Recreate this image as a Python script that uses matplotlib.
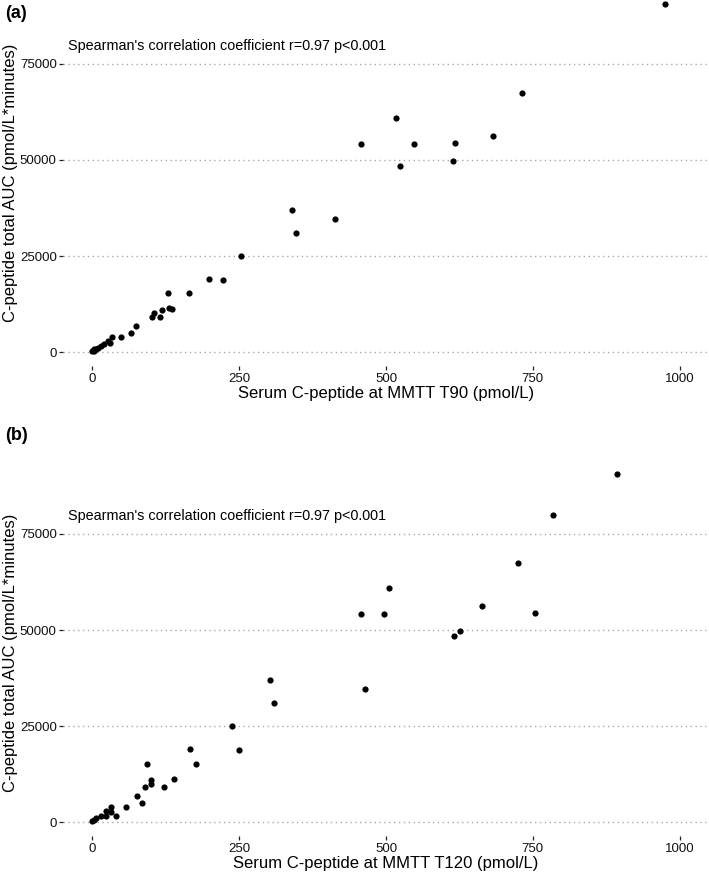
import matplotlib
matplotlib.use("Agg")
import matplotlib.pyplot as plt

plt.rcParams['font.family'] = ['Liberation Sans', 'DejaVu Sans']

# panel (a): serum C-peptide at MMTT T90 vs total AUC
t90 = [975, 731, 517, 458, 548, 617, 682, 524, 614, 414, 340, 346,
       253, 199, 223, 128, 165, 102, 105, 115, 118, 131, 136, 75, 66,
       49, 33, 26, 30, 20, 15, 9, 6, 3, 2, 0]
auc_a = [90600, 67450, 60850, 54250, 54250, 54400, 56250, 48440, 49800, 34630, 37000, 31000,
         25080, 19010, 18670, 15280, 15280, 9110, 10070, 9110, 10940, 11370, 11110, 6770, 5030,
         3990, 3830, 2860, 2430, 2000, 1560, 1120, 870, 700, 350, 180]

# panel (b): serum C-peptide at MMTT T120 vs total AUC
t120 = [894, 785, 724, 505, 458, 496, 663, 754, 616, 626, 303, 310, 465,
        238, 249, 167, 177, 93, 139, 100, 100, 90, 122, 76, 85, 58, 40,
        32, 32, 23, 23, 14, 6, 3, 0]
auc_b = [90600, 79950, 67360, 60850, 54160, 54160, 56250, 54330, 48350, 49820, 36980, 30900, 34630,
         25080, 18670, 19010, 15180, 15180, 11280, 10940, 9900, 9110, 9110, 6770, 4950, 3990, 1480,
         3830, 2690, 2940, 1560, 1560, 960, 500, 180]

xticks = [0, 250, 500, 750, 1000]
yticks = [0, 25000, 50000, 75000]
note = "Spearman's correlation coefficient r=0.97 p<0.001"

W, H = 709, 883
fig = plt.figure(figsize=(W / 100, H / 100), dpi=100)


def panel(top_px, x, y, xlabel, tag, tag_y):
    left, right, bottom = 63.0, 709, top_px + 316.8
    ax = fig.add_axes([left / W, 1 - bottom / H, (right - left) / W, (bottom - top_px) / H])
    ax.scatter(x, y, s=20, color='black', linewidths=0, zorder=3, clip_on=False)
    ax.set_xlim(-50, 1050)
    ax.set_ylim(-3750, 78750)
    ax.set_xticks(xticks)
    ax.set_yticks(yticks)
    ax.set_xticklabels([str(v) for v in xticks])
    ax.set_yticklabels([str(v) for v in yticks])
    for s in ax.spines.values():
        s.set_visible(False)
    ax.yaxis.grid(True, linestyle=(0, (1, 2.5)), color='#a8a8a8', linewidth=1.0)
    ax.xaxis.grid(False)
    ax.set_axisbelow(True)
    ax.tick_params(length=3, width=0.9, color='#222222', labelsize=9.5, pad=1.5,
                   labelcolor='#111111')
    ax.set_xlabel(xlabel, fontsize=12, labelpad=1)
    ax.set_ylabel("C-peptide total AUC (pmol/L*minutes)", fontsize=12)
    ax.yaxis.set_label_coords((18 - left) / (right - left), 0.58)
    ax.text(-42, 79800, note, fontsize=10.4, va='center', ha='left', color='black')
    fig.text(5 / W, 1 - tag_y / H, tag, fontsize=13, fontweight='bold', va='center', ha='left')
    return ax


panel(49.6, t90, auc_a, "Serum C-peptide at MMTT T90 (pmol/L)", "(a)", 13)
panel(519.6, t120, auc_b, "Serum C-peptide at MMTT T120 (pmol/L)", "(b)", 436)

fig.savefig("out.png", dpi=100)
